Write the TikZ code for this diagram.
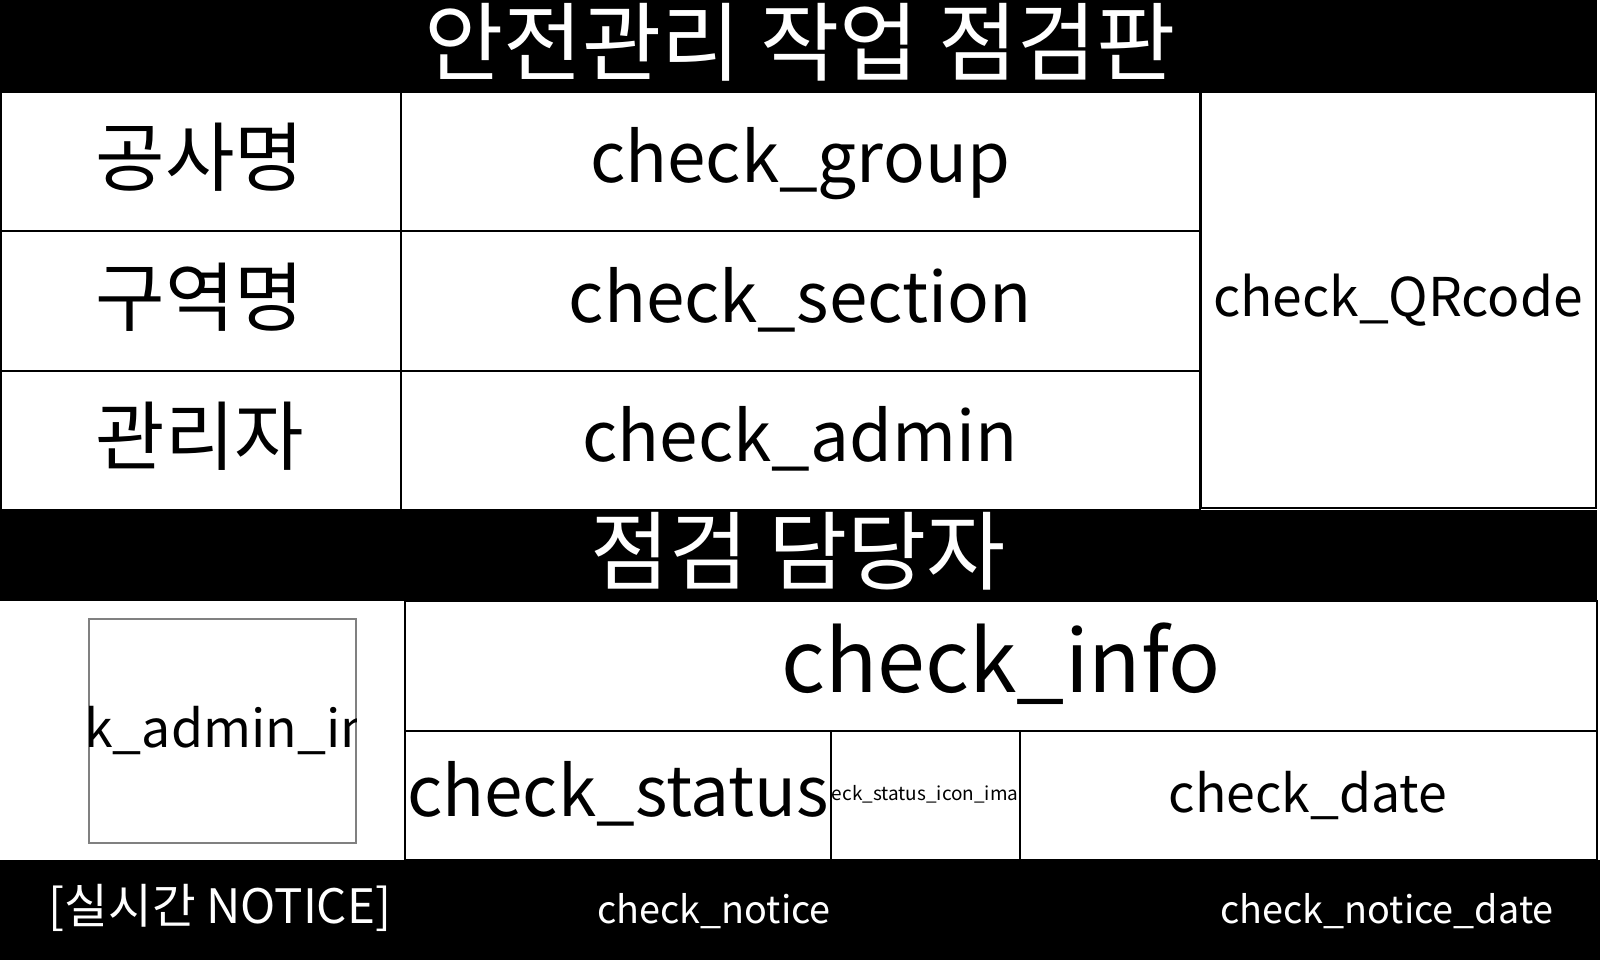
\documentclass[tikz,border=0pt]{standalone}
\usepackage{fontspec}
\setmainfont{Noto Sans CJK KR}
\tikzset{
  cell/.style={draw, line width=1pt},
  band/.style={fill=black},
  big/.style={font=\fontsize{49}{54}\selectfont, inner sep=0pt},
  label/.style={font=\fontsize{43}{48}\selectfont, inner sep=0pt},
  value/.style={font=\fontsize{39.4}{44}\selectfont, inner sep=0pt, anchor=base},
  mid/.style={font=\fontsize{29.5}{34}\selectfont, inner sep=0pt, anchor=base},
  tiny/.style={font=\fontsize{10.8}{13}\selectfont, inner sep=0pt, anchor=base},
  notice/.style={font=\fontsize{21.5}{26}\selectfont, inner sep=0pt, anchor=base, text=white}
}
\begin{document}
\begin{tikzpicture}[x=0.02cm, y=-0.02cm]
        \useasboundingbox (0,0) rectangle (1600,960);

        \fill[band] (0,0) rectangle (1597,92);
        \node[big, text=white] at (800,42) (title) {안전관리 작업 점검판};

        \draw[cell] (1,92) rectangle (401,231);
        \draw[cell] (401,92) rectangle (1200,231);
        \draw[cell] (1,231) rectangle (401,371);
        \draw[cell] (401,231) rectangle (1200,371);
        \draw[cell] (1,371) rectangle (401,510);
        \draw[cell] (401,371) rectangle (1200,510);
        \draw[cell] (1201,92) rectangle (1596,508);

        \node[label] at (200,157) (lblgroup) {공사명};
        \node[label] at (200,297) (lblsection) {구역명};
        \node[label] at (200,436) (lbladmin) {관리자};
        \node[value] at (800,182) (group) {check\_group};
        \node[value] at (800,322) (section) {check\_section};
        \node[value] at (800,461) (admin) {check\_admin};
        \node[mid, font=\fontsize{30.4}{35}\selectfont] at (1398,316) (qrcode) {check\_QRcode};

        \fill[band] (0,510) rectangle (1597,601);
        \node[big, text=white] at (798,551) (inspector) {점검 담당자};

        \draw[cell] (405,601) rectangle (1597,731);
        \draw[cell] (405,731) rectangle (831,860);
        \draw[cell] (831,731) rectangle (1020,860);
        \draw[cell] (1020,731) rectangle (1597,860);
        \draw[gray, line width=0.6pt] (89,619) rectangle (356,843);

        \begin{scope}
            \clip (89,619) rectangle (356,843);
            \node[mid] at (223,747) (adminimage) {check\_admin\_image};
        \end{scope}
        \node[font=\fontsize{49}{54}\selectfont, inner sep=0pt, anchor=base] at (1001,692) (info) {check\_info};
        \node[value] at (618,816) (status) {check\_status};
        \begin{scope}
            \clip (831,731) rectangle (1020,860);
            \node[tiny] at (925,800) (statusicon) {check\_status\_icon\_image};
        \end{scope}
        \node[mid] at (1308,812) (date) {check\_date};

        \fill[band] (0,860) rectangle (1600,960);
        \node[notice, font=\fontsize{27}{32}\selectfont] at (220,923) (realtime) {[실시간 NOTICE]};
        \node[notice] at (714,923) (noticetext) {check\_notice};
        \node[notice] at (1387,923) (noticedate) {check\_notice\_date};

    \end{tikzpicture}
\end{document}
